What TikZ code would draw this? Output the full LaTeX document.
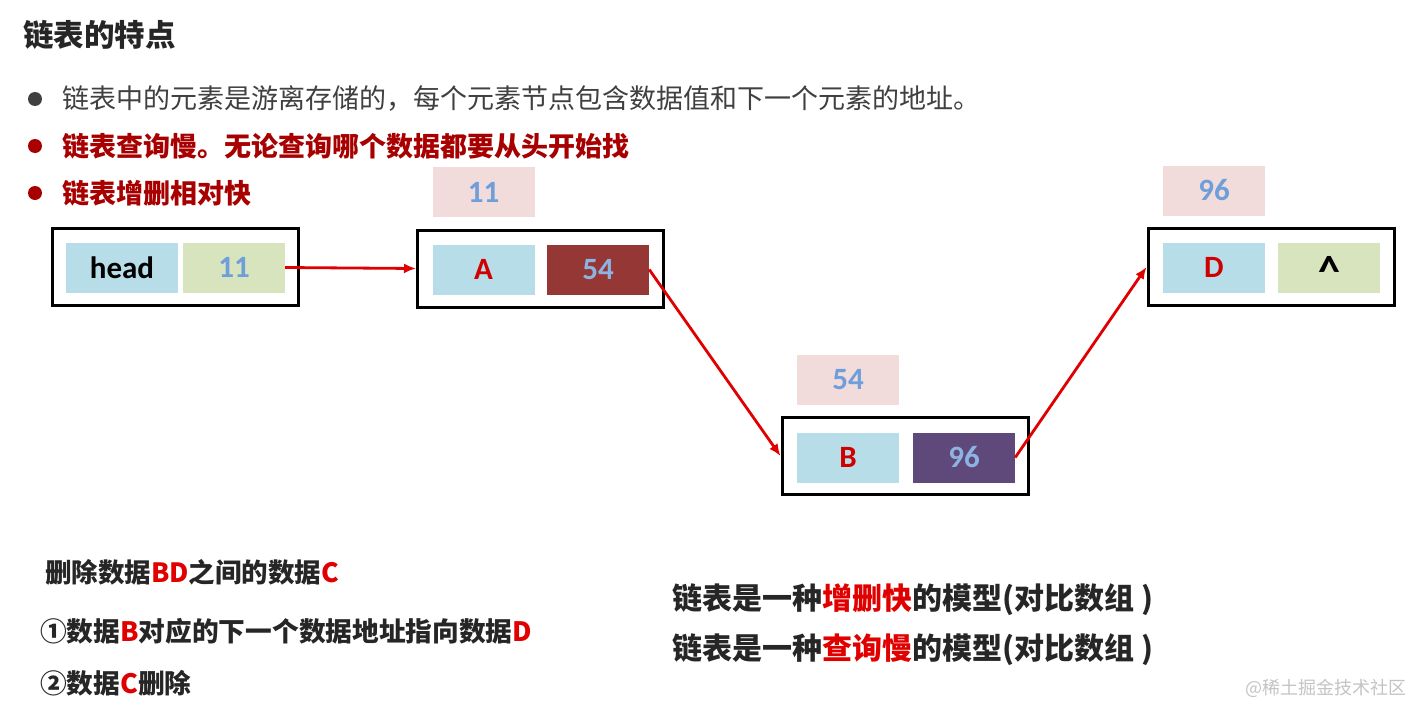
\documentclass[tikz,border=0pt]{standalone}
\usepackage{fontspec}
\setmainfont{Noto Sans CJK SC}
\newfontfamily\boxfont{Carlito}
\usetikzlibrary{arrows.meta}
\definecolor{cyanc}{HTML}{B7DEE8}
\definecolor{greenc}{HTML}{D7E4BD}
\definecolor{pinkc}{HTML}{F2DCDB}
\definecolor{darkredc}{HTML}{953735}
\definecolor{purplec}{HTML}{5F497A}
\definecolor{bluet}{HTML}{6F9FDA}
\definecolor{bluel}{HTML}{8DB3E2}
\definecolor{redt}{HTML}{D00000}
\definecolor{brightred}{HTML}{E00000}
\definecolor{deepred}{HTML}{A80000}
\definecolor{darktext}{HTML}{262626}
\definecolor{graytext}{HTML}{404040}
\definecolor{arrowred}{HTML}{E00000}
\definecolor{wmgray}{HTML}{C4C4C4}
\begin{document}
\begin{tikzpicture}[x=1pt,y=-1pt,
  outer/.style={draw=black, line width=3pt, minimum width=246pt, minimum height=77pt, inner sep=0pt},
  cell/.style={minimum width=102pt, minimum height=50pt, inner sep=0pt, font=\boxfont\bfseries\fontsize{31}{31}\selectfont},
  addr/.style={cell, fill=pinkc, text=bluet},
  link/.style={draw=arrowred, line width=2.8pt, -{Latex[length=12pt,width=10pt]}},
  txt/.style={anchor=west, inner sep=0pt},
  dot/.style={circle, inner sep=0pt, minimum size=14pt}]
\useasboundingbox (0,0) rectangle (1415,704);
\fill[white] (0,0) rectangle (1415,704);

% title
\node[txt, text=darktext, font=\bfseries\fontsize{30.5}{30.5}\selectfont] (title) at (23,35) {链表的特点};

% bullets
\node[dot, fill=graytext] (d1) at (35,99) {};
\node[txt, text=graytext, font=\fontsize{27}{27}\selectfont] (b1) at (62,99) {链表中的元素是游离存储的，每个元素节点包含数据值和下一个元素的地址。};
\node[dot, fill=deepred] (d2) at (35,146) {};
\node[txt, text=deepred, font=\bfseries\fontsize{27}{27}\selectfont] (b2) at (62,146) {链表查询慢。无论查询哪个数据都要从头开始找};
\node[dot, fill=deepred] (d3) at (35,193) {};
\node[txt, text=deepred, font=\bfseries\fontsize{27}{27}\selectfont] (b3) at (62,193) {链表增删相对快};

% head node
\node[outer] (hbox) at (175,267) {};
\node[cell, fill=cyanc, text=black, minimum width=112pt] (hhead) at (122,267.5) {head};
\node[cell, fill=greenc, text=bluet] (h11) at (234,267.5) {11};

% A node
\node[addr] (a11) at (483.5,192) {11};
\node[outer] (abox) at (540.5,268.5) {};
\node[cell, fill=cyanc, text=redt] (aA) at (483.5,269.5) {A};
\node[cell, fill=darkredc, text=bluel] (a54) at (598,269.5) {54};

% B node
\node[addr] (b54) at (848,380) {54};
\node[outer] (bbox) at (905,456) {};
\node[cell, fill=cyanc, text=redt] (bB) at (848,457.5) {B};
\node[cell, fill=purplec, text=bluel] (b96) at (964,457.5) {96};

% D node
\node[addr] (d96) at (1214,190.5) {96};
\node[outer] (dbox) at (1271,267) {};
\node[cell, fill=cyanc, text=redt] (dD) at (1214,267.5) {D};
\node[cell, fill=greenc, text=black, text height=0pt, text depth=0pt, font=\boxfont\bfseries\fontsize{44}{44}\selectfont] (dnil) at (1329,267.5) {\smash{\raisebox{-19pt}{\textasciicircum}}};

% links
\draw[link] (h11.east) -- (abox.west);
\draw[link] (a54.east) -- (bbox.west);
\draw[link] (b96.east) -- (dbox.west);

% bottom left
\node[txt, text=darktext, font=\bfseries\fontsize{26.5}{26.5}\selectfont] (l1) at (45,572) {删除数据\textcolor{brightred}{BD}之间的数据\textcolor{brightred}{C}};
\node[txt, text=darktext, font=\bfseries\fontsize{26.7}{26.7}\selectfont] (l2) at (40,631) {①数据\textcolor{brightred}{B}对应的下一个数据地址指向数据\textcolor{brightred}{D}};
\node[txt, text=darktext, font=\bfseries\fontsize{26.7}{26.7}\selectfont] (l3) at (40,683) {②数据\textcolor{brightred}{C}删除};

% bottom right
\node[txt, text=darktext, font=\bfseries\fontsize{30}{30}\selectfont] (r1) at (672,600) {链表是一种\textcolor{brightred}{增删快}的模型(对比数组 )};
\node[txt, text=darktext, font=\bfseries\fontsize{30}{30}\selectfont] (r2) at (672,650) {链表是一种\textcolor{brightred}{查询慢}的模型(对比数组 )};

% watermark
\node[txt, text=wmgray, font=\fontsize{18}{18}\selectfont] (wm) at (1245,688) {@稀土掘金技术社区};
\end{tikzpicture}
\end{document}
